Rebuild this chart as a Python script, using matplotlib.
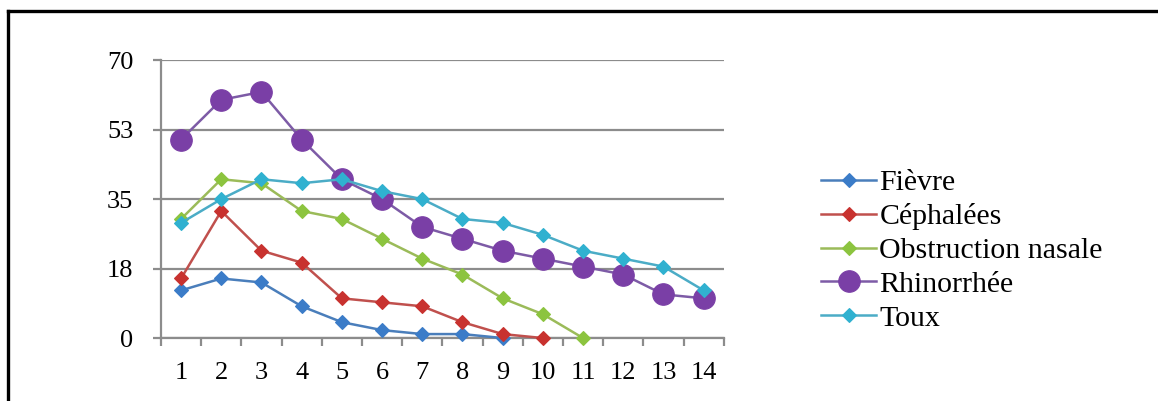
#!/usr/bin/env python3
# Symptom curves by day, Excel-style line chart

import numpy as np
import matplotlib
matplotlib.use('Agg')
import matplotlib.pyplot as plt
from matplotlib.lines import Line2D

plt.rcParams['font.family'] = ['Liberation Serif', 'DejaVu Serif']

days = list(range(1, 15))

fievre = [12, 15, 14, 8, 4, 2, 1, 1, 0]
cephalees = [15, 32, 22, 19, 10, 9, 8, 4, 1, 0]
obstruction_nasale = [30, 40, 39, 32, 30, 25, 20, 16, 10, 6, 0]
rhinorrhee = [50, 60, 62, 50, 40, 35, 28, 25, 22, 20, 18, 16, 11, 10]
toux = [29, 35, 40, 39, 40, 37, 35, 30, 29, 26, 22, 20, 18, 12]

series_names = ['Fièvre', 'Céphalées', 'Obstruction nasale', 'Rhinorrhée', 'Toux']
series_values = [fievre, cephalees, obstruction_nasale, rhinorrhee, toux]

y_ticks = [0, 17.5, 35, 52.5, 70]
y_tick_labels = ['0', '18', '35', '53', '70']

line_colors = ['#4a7ebb', '#c0504d', '#9bbb59', '#7d5ba6', '#4bacc6']
marker_colors = ['#3b7cc8', '#c8322f', '#8cc43f', '#7a3fa6', '#30b1d0']
markers = ['D', 'D', 'D', 'o', 'D']
marker_sizes = [6.8, 6.8, 6.8, 15.5, 6.8]

grid_color = '#8c8c8c'

fig = plt.figure(figsize=(11.58, 4.01), dpi=100)
ax = fig.add_axes([0.139, 0.157, 0.486, 0.693])

for name, values, lc, mc, m, ms in zip(series_names, series_values, line_colors,
                                       marker_colors, markers, marker_sizes):
  ax.plot(days[:len(values)], values, color=lc, linewidth=1.8, marker=m,
          markersize=ms, markerfacecolor=mc, markeredgecolor=mc,
          markeredgewidth=0.8, label=name, clip_on=False, zorder=3)

ax.set_xlim(0.5, 14.5)
ax.set_ylim(0, 70)

# y axis: gridlines + outward ticks
ax.set_yticks(y_ticks)
ax.set_yticklabels(y_tick_labels)
ax.yaxis.grid(True, color=grid_color, linewidth=1.6)
ax.tick_params(axis='y', direction='out', length=6, width=1.6, color=grid_color,
               pad=14, labelsize=19)

# x axis: ticks between categories, labels at category centres
ax.set_xticks(np.arange(0.5, 15, 1))
ax.set_xticklabels([])
ax.set_xticks(days, minor=True)
ax.set_xticklabels([str(d) for d in days], minor=True)
ax.tick_params(axis='x', which='major', direction='out', length=6, width=1.6,
               color=grid_color)
ax.tick_params(axis='x', which='minor', length=0, pad=17, labelsize=19)

for side in ['top', 'right']:
  ax.spines[side].set_visible(False)
for side in ['left', 'bottom']:
  ax.spines[side].set_color(grid_color)
  ax.spines[side].set_linewidth(1.6)
ax.set_axisbelow(True)

leg = fig.legend(loc='center left', bbox_to_anchor=(0.709, 0.375), frameon=False,
                 fontsize=21.5, handlelength=1.85, handletextpad=0.1,
                 labelspacing=0.23, borderpad=0, borderaxespad=0)

# outer border of the original picture (top and left edges only)
fig.add_artist(Line2D([0.0072, 1.0], [0.9726, 0.9726], color='black',
                      linewidth=2.4, transform=fig.transFigure))
fig.add_artist(Line2D([0.0072, 0.0072], [0.0, 0.9726], color='black',
                      linewidth=2.4, transform=fig.transFigure))

fig.savefig('out.png', dpi=100)
